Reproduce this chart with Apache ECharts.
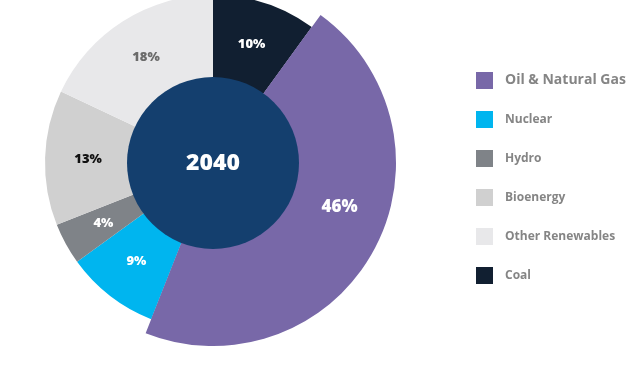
<!DOCTYPE html>
<html><head><meta charset="utf-8">
<script src="https://cdn.jsdelivr.net/npm/echarts@6/dist/echarts.min.js"></script>
<style>html,body{margin:0;padding:0;background:#fff}#c{width:640px;height:365px}</style>
</head><body><div id="c"></div>
<script>
// data (clockwise from 12 o'clock)
const categories = ['Coal', 'Oil & Natural Gas', 'Nuclear', 'Hydro', 'Bioenergy', 'Other Renewables'];
const shares = [10, 46, 9, 4, 13, 18];
const legendOrder = ['Oil & Natural Gas', 'Nuclear', 'Hydro', 'Bioenergy', 'Other Renewables', 'Coal'];
const centerLabel = '2040';
const highlighted = 'Oil & Natural Gas';

const colors = {
  'Coal': '#111f31',
  'Oil & Natural Gas': '#7868a8',
  'Nuclear': '#00b5ef',
  'Hydro': '#7f8388',
  'Bioenergy': '#d0d0d0',
  'Other Renewables': '#e8e8ea'
};
const labelColors = {
  'Coal': '#ffffff',
  'Oil & Natural Gas': '#ffffff',
  'Nuclear': '#ffffff',
  'Hydro': '#ffffff',
  'Bioenergy': '#111111',
  'Other Renewables': '#6b6b6b'
};
const FONT = '"Open Sans", Lato, sans-serif';
const CX = 213, CY = 163;

const baseData = categories.map((n, i) => ({
  name: n, value: shares[i],
  itemStyle: { color: colors[n] },
  label: {
    show: n !== highlighted,
    color: labelColors[n], fontSize: 13, fontWeight: 800, fontFamily: FONT,
    formatter: '{c}%'
  }
}));
const overlayData = categories.map((n, i) => ({
  name: n, value: shares[i],
  itemStyle: { color: n === highlighted ? colors[n] : 'rgba(0,0,0,0)' },
  label: {
    show: n === highlighted,
    color: '#fff', fontSize: 17, fontWeight: 800, fontFamily: FONT,
    formatter: '{c}%', offset: [6, -22]
  }
}));

const chart = echarts.init(document.getElementById('c'), null, { renderer: 'canvas' });
chart.setOption({
  animation: false,
  backgroundColor: '#ffffff',
  legend: {
    orient: 'vertical',
    left: 471, top: 67,
    itemWidth: 17, itemHeight: 17, itemGap: 22,
    icon: 'rect',
    selectedMode: false,
    textStyle: { color: '#858585', fontSize: 12, fontWeight: 'bold', fontFamily: '"Open Sans", sans-serif', padding: [0, 0, 0, 7] },
    data: legendOrder.map(n => n === highlighted
      ? { name: n, textStyle: { fontSize: 14, fontWeight: 'bold', color: '#858585' } }
      : { name: n })
  },
  series: [
    {
      type: 'pie', name: 'base',
      center: [CX, CY], radius: [76, 168],
      startAngle: 90, clockwise: true,
      label: { position: 'inside' },
      labelLine: { show: false },
      silent: true,
      data: baseData
    },
    {
      type: 'pie', name: 'overlay',
      center: [CX, CY], radius: [86, 183],
      startAngle: 90, clockwise: true,
      label: { position: 'inside' },
      labelLine: { show: false },
      silent: true,
      legendHoverLink: false,
      data: overlayData
    },
    {
      type: 'pie', name: 'center',
      center: [CX, CY], radius: [0, 86],
      silent: true,
      label: {
        position: 'center', color: '#fff', fontSize: 23, fontWeight: 800, fontFamily: FONT,
        formatter: centerLabel
      },
      labelLine: { show: false },
      data: [{ value: 1, name: centerLabel, itemStyle: { color: '#143f6e' } }]
    }
  ]
});
</script></body></html>
